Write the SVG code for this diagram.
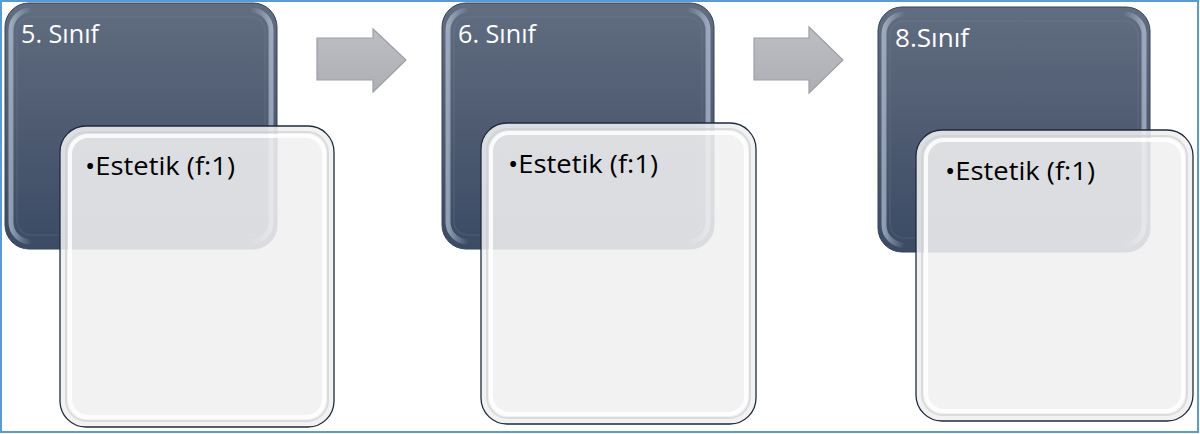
<svg xmlns="http://www.w3.org/2000/svg" width="1200" height="434" viewBox="0 0 1200 434">
  <defs>
    <linearGradient id="darkGrad" x1="0" y1="0" x2="0" y2="1">
      <stop offset="0" stop-color="#616d80"/>
      <stop offset="0.5" stop-color="#4e5b71"/>
      <stop offset="1" stop-color="#3b4b64"/>
    </linearGradient>
    <linearGradient id="edgeGrad" x1="0" y1="0" x2="1" y2="0">
      <stop offset="0" stop-color="#c8d4e6" stop-opacity="0.6"/>
      <stop offset="0.08" stop-color="#c8d4e6" stop-opacity="0"/>
      <stop offset="0.92" stop-color="#c8d4e6" stop-opacity="0"/>
      <stop offset="1" stop-color="#c8d4e6" stop-opacity="0.6"/>
    </linearGradient>
    <linearGradient id="arrowGrad" x1="0" y1="0" x2="0" y2="1">
      <stop offset="0" stop-color="#bcbec3"/>
      <stop offset="1" stop-color="#adafb4"/>
    </linearGradient>
  </defs>
  <style>
    .frame { fill: #ffffff; stroke: #5b9bd5; stroke-width: 2; }
    .dark { fill: url(#darkGrad); stroke: #34445c; stroke-width: 1; }
    .darkBevel { fill: none; stroke: url(#edgeGrad); stroke-width: 5; }
    .darkInner { fill: none; stroke: #8797ae; stroke-opacity: 0.15; stroke-width: 1.5; }
    .light { fill: #f0f0f0; fill-opacity: 0.88; stroke: #1e2b3d; stroke-width: 1.3; }
    .lightInner { fill: none; stroke: #ffffff; stroke-opacity: 0.85; stroke-width: 4; }
    .lightShade { fill: none; stroke: #c9cbce; stroke-opacity: 0.6; stroke-width: 2; }
    .title { font-family: "Open Sans", "Liberation Sans", sans-serif; font-size: 25px; fill: #ffffff; }
    .item { font-family: "Open Sans", "Liberation Sans", sans-serif; font-size: 25px; fill: #000000; }
    .arrow { fill: url(#arrowGrad); stroke: #9d9fa4; stroke-width: 1.2; }
  </style>

  <rect class="frame" x="1" y="1" width="1197" height="431"/>

  <g id="connectors">
    <path class="arrow" d="M317,38 L373,38 L373,29 L406,60 L373,92 L373,80 L317,80 Z"/>
    <path class="arrow" d="M754,38 L809,38 L809,27 L843,60 L809,93 L809,80 L754,80 Z"/>
  </g>

  <g id="node-5-sinif">
    <rect class="dark" x="5" y="3" width="272" height="246" rx="24"/>
    <rect class="darkBevel" x="11" y="10" width="260" height="232" rx="20"/>
    <rect class="darkInner" x="17" y="17" width="248" height="218" rx="14"/>
    <text class="title" x="21" y="43" textLength="78" lengthAdjust="spacingAndGlyphs">5. Sınıf</text>
  </g>
  <g id="node-5-detail">
    <rect class="light" x="60" y="126" width="274" height="301" rx="26"/>
    <rect class="lightShade" x="66" y="132" width="262" height="289" rx="21"/>
    <rect class="lightInner" x="70" y="136" width="254" height="281" rx="18"/>
    <text class="item" x="85" y="175" textLength="150" lengthAdjust="spacingAndGlyphs">•Estetik (f:1)</text>
  </g>

  <g id="node-6-sinif">
    <rect class="dark" x="442" y="3" width="272" height="246" rx="24"/>
    <rect class="darkBevel" x="448" y="10" width="260" height="232" rx="20"/>
    <rect class="darkInner" x="454" y="17" width="248" height="218" rx="14"/>
    <text class="title" x="458" y="43" textLength="78" lengthAdjust="spacingAndGlyphs">6. Sınıf</text>
  </g>
  <g id="node-6-detail">
    <rect class="light" x="481" y="123" width="275" height="301" rx="26"/>
    <rect class="lightShade" x="487" y="129" width="263" height="289" rx="21"/>
    <rect class="lightInner" x="491" y="133" width="255" height="281" rx="18"/>
    <text class="item" x="508" y="173" textLength="150" lengthAdjust="spacingAndGlyphs">•Estetik (f:1)</text>
  </g>

  <g id="node-8-sinif">
    <rect class="dark" x="878" y="7" width="272" height="245" rx="24"/>
    <rect class="darkBevel" x="884" y="14" width="260" height="231" rx="20"/>
    <rect class="darkInner" x="890" y="21" width="248" height="217" rx="14"/>
    <text class="title" x="895" y="47" textLength="74" lengthAdjust="spacingAndGlyphs">8.Sınıf</text>
  </g>
  <g id="node-8-detail">
    <rect class="light" x="916" y="130" width="277" height="291" rx="26"/>
    <rect class="lightShade" x="922" y="136" width="265" height="279" rx="21"/>
    <rect class="lightInner" x="926" y="140" width="257" height="271" rx="18"/>
    <text class="item" x="945" y="180" textLength="150" lengthAdjust="spacingAndGlyphs">•Estetik (f:1)</text>
  </g>
</svg>
